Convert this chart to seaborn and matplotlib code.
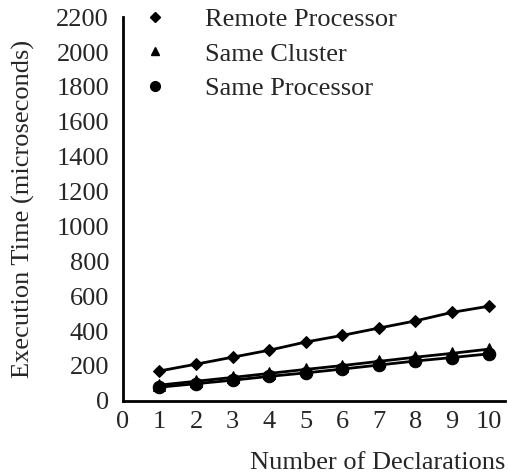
import matplotlib
matplotlib.use("Agg")
import matplotlib.pyplot as plt
from matplotlib.lines import Line2D
import seaborn as sns
import pandas as pd

declarations = [1, 2, 3, 4, 5, 6, 7, 8, 9, 10]
remote_processor = [171, 210, 250, 290, 337, 375, 417, 458, 507, 542]
same_cluster = [90, 112, 134, 157, 180, 202, 226, 250, 272, 296]
same_processor = [78, 98, 118, 140, 160, 182, 205, 228, 248, 269]
series_names = ["Remote Processor", "Same Cluster", "Same Processor"]
y_ticks = list(range(0, 2201, 200))
x_ticks = list(range(0, 11))

df = pd.DataFrame({
    "n": declarations * 3,
    "t": remote_processor + same_cluster + same_processor,
    "series": [series_names[0]] * 10 + [series_names[1]] * 10 + [series_names[2]] * 10,
})

sns.set_style("white")
plt.rcParams["font.family"] = ["Liberation Serif", "DejaVu Serif"]
FS = 19
plt.rcParams["font.size"] = FS

fig = plt.figure(figsize=(5.08, 4.76), dpi=100)
ax = fig.add_axes([0.242, 0.158, 0.752, 0.806])

markers = {"Remote Processor": "D", "Same Cluster": "^", "Same Processor": "o"}
sizes_ms = {"Remote Processor": 6.5, "Same Cluster": 8, "Same Processor": 9}
for name in series_names:
    sub = df[df["series"] == name]
    sns.lineplot(data=sub, x="n", y="t", ax=ax, color="black", linewidth=2,
                 marker=markers[name], markersize=sizes_ms[name],
                 markeredgecolor="black", legend=False)

ax.set_xlim(0, 10.45)
ax.set_ylim(0, 2200)
ax.set_xticks(x_ticks)
ax.set_yticks(y_ticks)
ax.tick_params(axis="y", direction="in", length=4, width=1, color="#777777",
               labelsize=FS, pad=10)
ax.tick_params(axis="x", direction="in", length=4, width=1, color="#777777",
               labelsize=FS, pad=7)
for s in ["top", "right"]:
    ax.spines[s].set_visible(False)
for s in ["left", "bottom"]:
    ax.spines[s].set_linewidth(2)
    ax.spines[s].set_color("black")

ax.set_ylabel("Execution Time (microseconds)", fontsize=FS, labelpad=15)
ax.set_xlabel("Number of Declarations", fontsize=FS, loc="right", labelpad=14)

handles = [Line2D([], [], color="black", linestyle="none", marker=markers[n],
                  markersize=ms) for n, ms in zip(series_names, [5, 6, 7])]
ax.legend(handles, series_names, loc="upper left", bbox_to_anchor=(-0.012, 1.087),
          frameon=False, fontsize=FS, handletextpad=1.4, labelspacing=0.42,
          handlelength=1.0)

fig.savefig("out.png", dpi=100)
